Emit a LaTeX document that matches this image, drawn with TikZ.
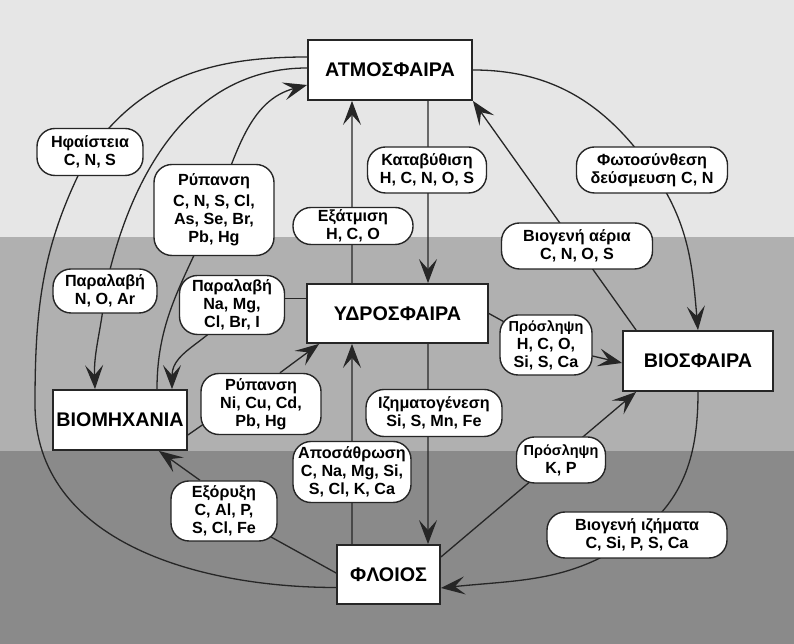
\documentclass[tikz,border=0pt]{standalone}
\usepackage{fontspec}
\setmainfont{Liberation Sans}
\usetikzlibrary{arrows.meta}
\pgfdeclarelayer{bands}
\pgfdeclarelayer{edges}
\pgfsetlayers{bands,edges,main}
\definecolor{bandA}{HTML}{E6E6E6}
\definecolor{bandB}{HTML}{B0B0B0}
\definecolor{bandC}{HTML}{8A8A8A}
\definecolor{ink}{HTML}{262626}
\begin{document}
\begin{tikzpicture}[x=1bp,y=1bp,
  sphere/.style={draw=ink, line width=1.8bp, fill=white, inner sep=0pt, font=\fontsize{19.8}{24}\selectfont\bfseries},
  lab/.style 2 args={draw=ink, line width=1.4bp, fill=white, rounded corners=18bp, inner sep=0pt, minimum width=#1, minimum height=#2, align=center, font=\fontsize{16.2}{18}\selectfont\bfseries},
  conn/.style={draw=ink, line width=1.3bp},
  arr/.style={conn, -{Stealth[length=24bp,width=18bp,inset=10bp]}}
]
\useasboundingbox (0,0) rectangle (794,644);
\begin{pgfonlayer}{bands}
\fill[bandA] (0,407) rectangle (794,644);
\fill[bandB] (0,193) rectangle (794,407);
\fill[bandC] (0,0) rectangle (794,193);
\end{pgfonlayer}

% spheres
\node[sphere, minimum width=164bp, minimum height=60bp] (atm) at (390,574) {ΑΤΜΟΣΦΑΙΡΑ};
\node[sphere, minimum width=181bp, minimum height=59bp] (ydr) at (397.5,330.5) {ΥΔΡΟΣΦΑΙΡΑ};
\node[sphere, minimum width=150bp, minimum height=60bp] (bio) at (698,283) {ΒΙΟΣΦΑΙΡΑ};
\node[sphere, minimum width=134bp, minimum height=60bp] (bmx) at (120,224) {ΒΙΟΜΗΧΑΝΙΑ};
\node[sphere, minimum width=103bp, minimum height=59bp] (flo) at (388.5,69.5) {ΦΛΟΙΟΣ};

% labels
\node[lab={106bp}{47bp}] (hfa) at (90,492) {Ηφαίστεια\\C, N, S};
\node[lab={120bp}{91bp}] (ryp1) at (214,434) {Ρύπανση\\[3bp]C, N, S, Cl,\\As, Se, Br,\\Pb, Hg};
\node[lab={120bp}{37bp}] (exa) at (353,418) {Εξάτμιση\\H, C, O};
\node[lab={119bp}{46bp}] (kat) at (427,474) {Καταβύθιση\\H, C, N, O, S};
\node[lab={151bp}{46bp}] (fot) at (652,474) {Φωτοσύνθεση\\δεύσμευση\hspace{5bp}C, N};
\node[lab={151bp}{46bp}] (bga) at (577,398) {Βιογενή αέρια\\C, N, O, S};
\node[lab={104bp}{44bp}] (par1) at (105,353) {Παραλαβή\\N, O, Ar};
\node[lab={105bp}{59bp}] (par2) at (232,339) {Παραλαβή\\Na, Mg,\\Cl, Br, I};
\node[lab={92bp}{60bp}] (pro1) at (546,299) {{\fontsize{14.5}{18}\selectfont Πρόσληψη}\\H, C, O,\\Si, S, Ca};
\node[lab={120bp}{61bp}] (ryp2) at (261,240) {Ρύπανση\\Ni, Cu, Cd,\\Pb, Hg};
\node[lab={136bp}{47bp}] (izh) at (434,231) {Ιζηματογένεση\\Si, S, Mn, Fe};
\node[lab={118bp}{61bp}] (apo) at (352,172) {Αποσάθρωση\\C, Na, Mg, Si,\\S, Cl, K, Ca};
\node[lab={89bp}{46bp}] (pro2) at (561,184) {{\fontsize{14.5}{18}\selectfont Πρόσληψη}\\K, P};
\node[lab={106bp}{60bp}] (exo) at (224,133) {Εξόρυξη\\C, Al, P,\\S, Cl, Fe};
\node[lab={180bp}{46bp}] (bgi) at (637,109) {Βιογενή ιζήματα\\C, Si, P, S, Ca};

\coordinate (hbend) at (35,240);

\begin{pgfonlayer}{edges}
% atmosphere <-> hydrosphere
\draw[arr] ([xshift=38bp]atm.south) -- ([xshift=30.5bp]ydr.north);
\draw[arr] ([xshift=-45.5bp]ydr.north) -- ([xshift=-38bp]atm.south);
% biogenic gases
\draw[arr] ([xshift=14bp]bio.north west) -- (atm.south east);
% photosynthesis
\draw[arr] (atm.east) to[out=0,in=125] (fot.center) to[out=-55,in=95] (bio.north);
% volcanoes
\draw[conn] ([yshift=-13bp]flo.west) to[out=180,in=-90] (hbend) to[out=90,in=-118] (hfa.center) to[out=55,in=180] ([yshift=13bp]atm.west);
% uptake N, O, Ar
\draw[arr] ([yshift=2bp]atm.west) to[out=180,in=78] (par1.center) to[out=-95,in=92] ([xshift=-25bp]bmx.north);
% pollution to atmosphere
\draw[arr] ([xshift=37bp]bmx.north) to[out=90,in=-112] (ryp1.center) to[out=68,in=195] ([yshift=-15bp]atm.west);
% uptake Na, Mg
\draw[conn] ([yshift=15bp]ydr.west) -- ([yshift=15bp]ydr.west -| par2.east);
\draw[arr] (par2.center) to[out=-115,in=90] ([xshift=52bp]bmx.north);
% pollution to hydrosphere
\draw[conn] ([yshift=-15bp]bmx.east) -- ([xshift=-40bp,yshift=-8bp]ryp2.center);
\draw[arr] ([xshift=19bp]ryp2.north) -- ([xshift=13bp]ydr.south west);
% weathering and sedimentation
\draw[arr] ([xshift=-36.5bp]flo.north) -- ([xshift=-45.5bp]ydr.south);
\draw[arr] ([xshift=30.5bp]ydr.south) -- ([xshift=39.5bp]flo.north);
% uptake H, C, O
\draw[conn] (ydr.east) -- (pro1.center);
\draw[arr] (pro1.center) -- ([yshift=-2bp]bio.west);
% uptake K, P
\draw[arr] ([yshift=17.5bp]flo.east) -- ([xshift=14bp]bio.south west);
% biogenic sediments
\draw[arr] (bio.south) to[out=-90,in=37] (bgi.center) to[out=-143,in=6] ([yshift=-13.5bp]flo.east);
% mining
\draw[conn] ([yshift=1.5bp]flo.west) -- (exo.center);
\draw[arr] ([xshift=-24bp]exo.north) -- ([xshift=-29bp]bmx.south east);
\end{pgfonlayer}
\end{tikzpicture}
\end{document}
